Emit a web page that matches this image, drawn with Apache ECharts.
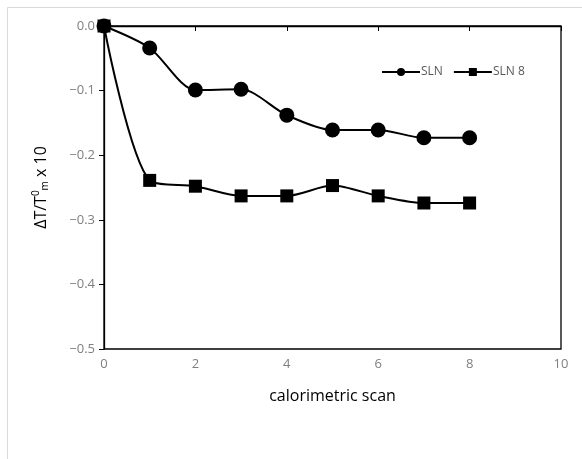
<!DOCTYPE html>
<html>
<head>
<meta charset="utf-8">
<script src="https://cdn.jsdelivr.net/npm/echarts@6/dist/echarts.min.js"></script>
<style>
  html, body { margin: 0; padding: 0; background: #fff; }
  #chart { width: 582px; height: 459px; }
</style>
</head>
<body>
<div id="chart"></div>
<script>
// Calorimetric scan number
const scans = [0, 1, 2, 3, 4, 5, 6, 7, 8];
// Relative shift of melting temperature, ΔT/T0m x 10
const slnValues = [0, -0.034, -0.099, -0.098, -0.138, -0.161, -0.161, -0.173, -0.173];
const sln8Values = [0, -0.239, -0.248, -0.263, -0.263, -0.247, -0.263, -0.274, -0.274];
const seriesNames = ['SLN', 'SLN 8'];

const font = '"Open Sans", Lato, sans-serif';

const chart = echarts.init(document.getElementById('chart'), null, { renderer: 'canvas' });

chart.setOption({
  animation: false,
  backgroundColor: '#ffffff',
  graphic: [{
    type: 'rect',
    shape: { x: 7.5, y: 7.5, width: 600, height: 480 },
    style: { fill: 'none', stroke: '#d9d9d9', lineWidth: 1 },
    silent: true,
    z: -1
  }, {
    type: 'rect',
    shape: { x: 104, y: 26, width: 457, height: 323 },
    style: { fill: 'none', stroke: '#000', lineWidth: 1.3 },
    silent: true,
    z: 10
  }],
  legend: {
    data: seriesNames,
    left: 376,
    top: 61,
    itemWidth: 38,
    itemHeight: 10,
    itemGap: 10,
    textStyle: { color: '#595959', fontFamily: font, fontSize: 12, padding: [0, 0, 0, -4] }
  },
  grid: { left: 104, right: 21, top: 26, bottom: 110 },
  xAxis: {
    type: 'value',
    min: 0, max: 10, interval: 2,
    name: 'calorimetric scan',
    nameLocation: 'middle',
    nameGap: 39,
    nameTextStyle: { color: '#000', fontFamily: font, fontSize: 16 },
    axisLine: { lineStyle: { color: '#000', width: 1.3 } },
    axisTick: { show: true, inside: false, length: 5, lineStyle: { color: '#000' } },
    axisLabel: { color: '#7f7f7f', fontFamily: font, fontSize: 13, margin: 9 },
    splitLine: { show: false }
  },
  yAxis: {
    type: 'value',
    min: -0.5, max: 0, interval: 0.1,
    name: '{a|ΔT/T}{sup|0}{sub|m}{a| x 10}',
    nameLocation: 'middle',
    nameGap: 53,
    nameRotate: 90,
    nameTextStyle: {
      rich: {
        a: { color: '#000', fontFamily: font, fontSize: 16 },
        sup: { color: '#000', fontFamily: font, fontSize: 10, padding: [0, 0, 10, 0] },
        sub: { color: '#000', fontFamily: font, fontSize: 10, padding: [8, 0, 0, 0] }
      }
    },
    axisLine: { lineStyle: { color: '#000', width: 1.3 } },
    axisTick: { show: true, inside: false, length: 5, lineStyle: { color: '#000' } },
    axisLabel: {
      color: '#7f7f7f', fontFamily: font, fontSize: 13, margin: 9,
      formatter: v => (v === 0 ? '0.0' : '\u2212' + Math.abs(v).toFixed(1))
    },
    splitLine: { show: false }
  },
  series: [{
    name: seriesNames[0],
    type: 'line',
    data: scans.map((x, i) => [x, slnValues[i]]),
    smooth: 0.28,
    symbol: 'circle',
    symbolSize: 15,
    lineStyle: { color: '#000', width: 2 },
    itemStyle: { color: '#000' },
    z: 3
  }, {
    name: seriesNames[1],
    type: 'line',
    data: scans.map((x, i) => [x, sln8Values[i]]),
    smooth: 0.28,
    symbol: 'rect',
    symbolSize: 13,
    lineStyle: { color: '#000', width: 2 },
    itemStyle: { color: '#000' },
    z: 2
  }]
});
</script>
</body>
</html>
